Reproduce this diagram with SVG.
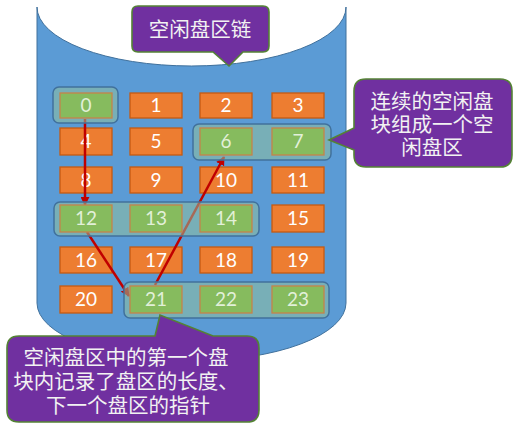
<svg xmlns="http://www.w3.org/2000/svg" width="525" height="435" viewBox="0 0 525 435">
<style>
.o{fill:#ED7D31;stroke:#C55A11;stroke-width:1.3}
.g{fill:#86BB5E;stroke:#C5834A;stroke-width:1.3}
.grp{fill:#8FBF9F;fill-opacity:0.55;stroke:#41719C;stroke-width:1.5}
.t{font-family:Lato,"Open Sans","Liberation Sans",sans-serif;font-size:19px;text-anchor:middle}
.to{fill:#FFFFFF}
.tg{fill:#E2F0D9}
.co{fill:#7030A0;stroke:#548235;stroke-width:1.6}
.ct{font-family:"Noto Sans CJK SC","Noto Sans",sans-serif;font-size:20.5px;fill:#F2F2F2;text-anchor:middle}
.ar{stroke:#C00000;stroke-width:2.5;fill:none;marker-end:url(#ah)}
</style>
<defs>
<marker id="ah" viewBox="0 0 10 10" refX="9" refY="5" markerWidth="3.6" markerHeight="3.6" orient="auto" markerUnits="strokeWidth">
<path d="M0,0 L10,5 L0,10 Z" fill="#C00000"/>
</marker>
</defs>
<rect width="525" height="435" fill="#FFFFFF"/>
<g id="disk">
<path d="M37,7 A154.5,59 0 0 0 346,7 L346,303 A154.5,58 0 0 1 37,303 Z" fill="#5B9BD5" stroke="#41719C" stroke-width="1"/>
</g>
<g id="cells-free">
<g id="c1"><rect class="o" x="130" y="93" width="52" height="25"/><text class="t to" x="156" y="112">1</text></g>
<g id="c2"><rect class="o" x="200" y="93" width="52" height="25"/><text class="t to" x="226" y="112">2</text></g>
<g id="c3"><rect class="o" x="272" y="93" width="52" height="25"/><text class="t to" x="298" y="112">3</text></g>
<g id="c4"><rect class="o" x="60" y="128" width="52" height="27"/><text class="t to" x="86" y="148">4</text></g>
<g id="c5"><rect class="o" x="130" y="128" width="52" height="27"/><text class="t to" x="156" y="148">5</text></g>
<g id="c8"><rect class="o" x="60" y="167" width="52" height="26"/><text class="t to" x="86" y="187">8</text></g>
<g id="c9"><rect class="o" x="130" y="167" width="52" height="26"/><text class="t to" x="156" y="187">9</text></g>
<g id="c10"><rect class="o" x="200" y="167" width="52" height="26"/><text class="t to" x="226" y="187">10</text></g>
<g id="c11"><rect class="o" x="272" y="167" width="52" height="26"/><text class="t to" x="298" y="187">11</text></g>
<g id="c15"><rect class="o" x="272" y="205" width="52" height="27"/><text class="t to" x="298" y="225">15</text></g>
<g id="c16"><rect class="o" x="60" y="247" width="52" height="26"/><text class="t to" x="86" y="267">16</text></g>
<g id="c17"><rect class="o" x="130" y="247" width="52" height="26"/><text class="t to" x="156" y="267">17</text></g>
<g id="c18"><rect class="o" x="200" y="247" width="52" height="26"/><text class="t to" x="226" y="267">18</text></g>
<g id="c19"><rect class="o" x="272" y="247" width="52" height="26"/><text class="t to" x="298" y="267">19</text></g>
<g id="c20"><rect class="o" x="60" y="286" width="52" height="27"/><text class="t to" x="86" y="306">20</text></g>
</g>
<g id="connectors">
<line class="ar" x1="85" y1="119" x2="85" y2="205"/>
<line class="ar" x1="87" y1="232" x2="129" y2="296"/>
<line class="ar" x1="155" y1="285" x2="224" y2="157"/>
</g>
<g id="groups">
<rect id="grp0" class="grp" x="53" y="87" width="65" height="36" rx="6"/>
<rect id="grp6" class="grp" x="193" y="124" width="138" height="36" rx="6"/>
<rect id="grp12" class="grp" x="54" y="202" width="205" height="34" rx="6"/>
<rect id="grp21" class="grp" x="124" y="282" width="205" height="36" rx="6"/>
</g>
<g id="cells-used">
<g id="c0"><rect class="g" x="60" y="93" width="52" height="25"/><text class="t tg" x="86" y="112">0</text></g>
<g id="c6"><rect class="g" x="200" y="128" width="52" height="27"/><text class="t tg" x="226" y="148">6</text></g>
<g id="c7"><rect class="g" x="272" y="128" width="52" height="27"/><text class="t tg" x="298" y="148">7</text></g>
<g id="c12"><rect class="g" x="60" y="205" width="52" height="27"/><text class="t tg" x="86" y="225">12</text></g>
<g id="c13"><rect class="g" x="130" y="205" width="52" height="27"/><text class="t tg" x="156" y="225">13</text></g>
<g id="c14"><rect class="g" x="200" y="205" width="52" height="27"/><text class="t tg" x="226" y="225">14</text></g>
<g id="c21"><rect class="g" x="130" y="286" width="52" height="27"/><text class="t tg" x="156" y="306">21</text></g>
<g id="c22"><rect class="g" x="200" y="286" width="52" height="27"/><text class="t tg" x="226" y="306">22</text></g>
<g id="c23"><rect class="g" x="272" y="286" width="52" height="27"/><text class="t tg" x="298" y="306">23</text></g>
</g>
<g id="callout-top">
<path class="co" d="M138,6 H263 Q269,6 269,12 V46 Q269,52 263,52 H243 L229,66 L213,52 H138 Q132,52 132,46 V12 Q132,6 138,6 Z"/>
<text class="ct" x="200" y="37">空闲盘区链</text>
</g>
<g id="callout-right">
<path class="co" d="M366,79 H500 Q512,79 512,91 V155 Q512,167 500,167 H366 Q354,167 354,155 V150 L329,140 L354,128 V91 Q354,79 366,79 Z"/>
<text class="ct" x="432" y="109">连续的空闲盘</text>
<text class="ct" x="432" y="132">块组成一个空</text>
<text class="ct" x="432" y="155">闲盘区</text>
</g>
<g id="callout-bottom">
<path class="co" d="M19,336 H155 L160,315 L213,336 H247 Q259,336 259,348 V410 Q259,422 247,422 H19 Q7,422 7,410 V348 Q7,336 19,336 Z"/>
<text class="ct" x="126" y="365">空闲盘区中的第一个盘</text>
<text class="ct" x="126" y="389">块内记录了盘区的长度、</text>
<text class="ct" x="128" y="413">下一个盘区的指针</text>
</g>
</svg>
